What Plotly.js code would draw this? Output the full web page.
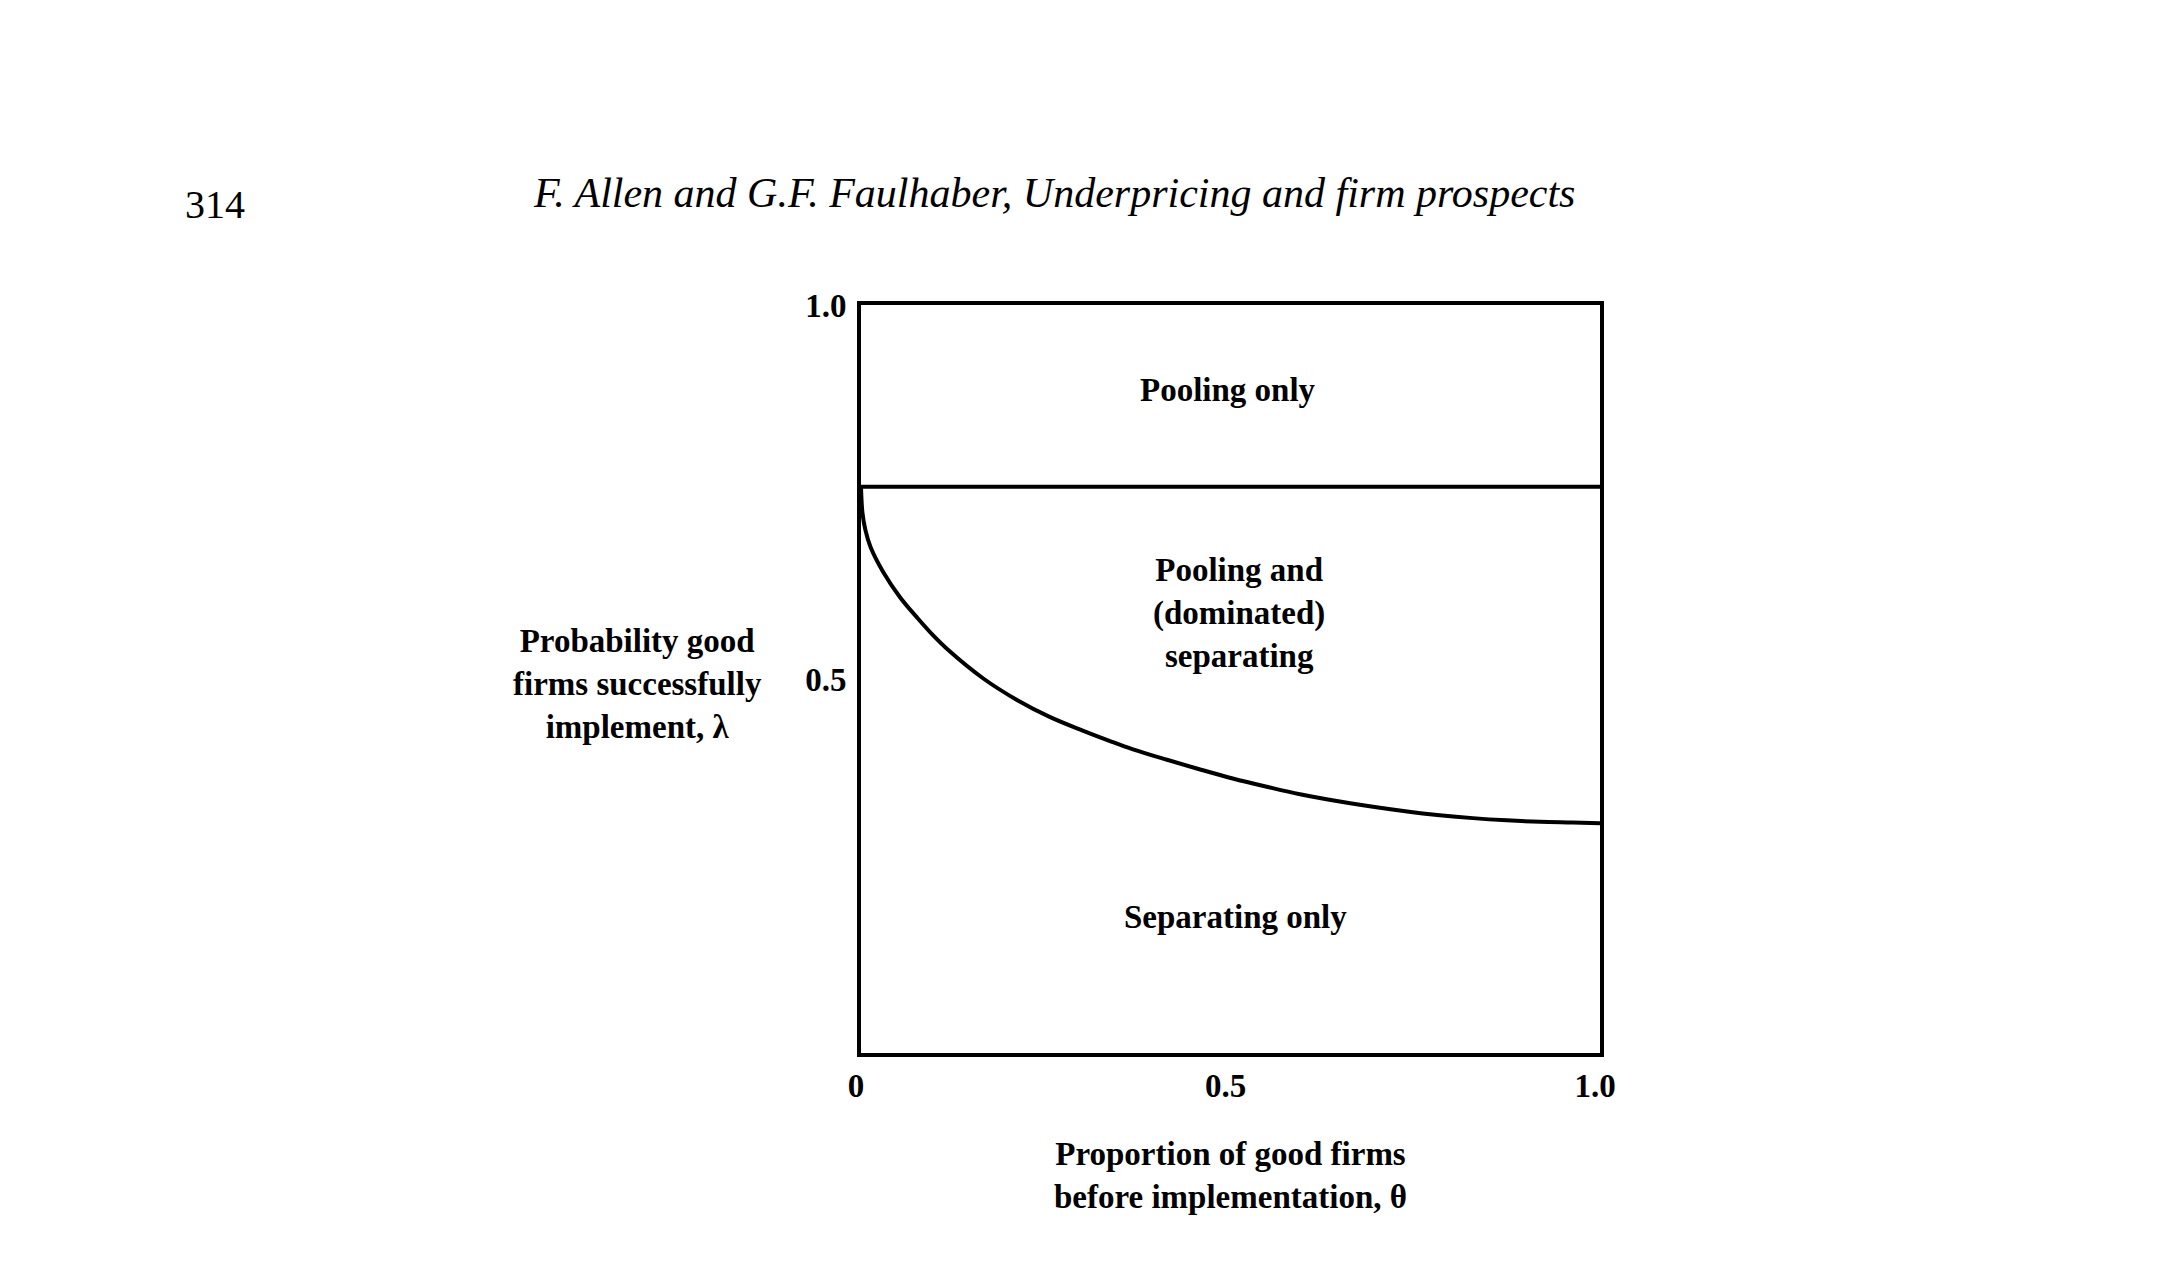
<!DOCTYPE html>
<html>
<head>
<meta charset="utf-8">
<script src="https://cdn.plot.ly/plotly-3.0.1.min.js"></script>
<style>html,body{margin:0;padding:0;background:#fff;}#chart{width:2159px;height:1285px;}</style>
</head>
<body>
<div id="chart"></div>
<script>
// Boundary between "Separating only" and "Pooling and (dominated) separating"
const theta = [0, 0.002, 0.006, 0.013, 0.030, 0.053, 0.076, 0.097, 0.120, 0.165, 0.211, 0.256, 0.300, 0.337, 0.368, 0.414, 0.459, 0.503, 0.549, 0.594, 0.662, 0.739, 0.783, 0.828, 0.874, 0.919, 0.963, 1.0];
const lambdaCurve = [0.757, 0.722, 0.699, 0.676, 0.643, 0.609, 0.582, 0.559, 0.537, 0.501, 0.472, 0.449, 0.431, 0.417, 0.406, 0.392, 0.379, 0.367, 0.356, 0.346, 0.334, 0.323, 0.318, 0.314, 0.311, 0.309, 0.308, 0.307];
// Boundary between "Pooling only" and the middle region
const poolingTheta = [0, 1];
const poolingLambda = [0.757, 0.757];

const xTickVals = [0, 0.5, 1.0];
const xTickText = ['0', '0.5', '1.0'];
const yTickVals = [0.5, 1.0];
const yTickText = ['0.5', '1.0'];

const regionLabels = ['Pooling only', 'Pooling and<br>(dominated)<br>separating', 'Separating only'];
const regionX = [0.497, 0.511, 0.507];
const regionY = [0.886, 0.588, 0.182];

const pageNumber = '314';
const runningHead = 'F. Allen and G.F. Faulhaber, Underpricing and firm prospects';
const xTitle = 'Proportion of good firms<br>before implementation, θ';
const yTitle = 'Probability good<br>firms successfully<br>implement, λ';

const serif = 'Liberation Serif, Times New Roman, serif';
const txtFont = {family: serif, size: 33, color: '#000', weight: 'bold'};

const traces = [
  {x: theta, y: lambdaCurve, mode: 'lines', line: {color: '#000', width: 4, shape: 'spline', smoothing: 1}, hoverinfo: 'skip', showlegend: false},
  {x: poolingTheta, y: poolingLambda, mode: 'lines', line: {color: '#000', width: 4}, hoverinfo: 'skip', showlegend: false}
];

const annotations = regionLabels.map((t, i) => ({
  text: t, x: regionX[i], y: regionY[i], xref: 'x', yref: 'y',
  showarrow: false, font: txtFont, align: 'center', xanchor: 'center', yanchor: 'middle'
}));
annotations.push({
  text: yTitle, xref: 'paper', yref: 'paper', x: -0.303, y: 0.493,
  showarrow: false, font: txtFont, align: 'center', xanchor: 'center', yanchor: 'middle'
});
annotations.push({
  text: pageNumber, xref: 'paper', yref: 'paper', x: (215 - 861) / 739, y: (1053 - 205) / 748,
  showarrow: false, font: {family: serif, size: 40, color: '#000', weight: 'normal'}, xanchor: 'center', yanchor: 'middle'
});
annotations.push({
  text: '<i>' + runningHead + '</i>', xref: 'paper', yref: 'paper', x: (1054 - 861) / 739, y: (1053 - 193) / 748,
  showarrow: false, font: {family: serif, size: 42, color: '#000', weight: 'normal'}, xanchor: 'center', yanchor: 'middle'
});

const layout = {
  width: 2159, height: 1285,
  paper_bgcolor: '#fff', plot_bgcolor: '#fff',
  margin: {l: 861, r: 559, t: 305, b: 232, pad: 0},
  showlegend: false,
  font: txtFont,
  xaxis: {
    range: [0, 1], showgrid: false, zeroline: false,
    showline: true, mirror: true, linecolor: '#000', linewidth: 4,
    tickvals: xTickVals, ticktext: xTickText,
    ticks: '', ticklabelshift: -5,
    tickfont: txtFont,
    title: {text: xTitle, font: txtFont, standoff: 40}
  },
  yaxis: {
    range: [0, 1], showgrid: false, zeroline: false,
    showline: true, mirror: true, linecolor: '#000', linewidth: 4,
    tickvals: yTickVals, ticktext: yTickText,
    ticks: 'outside', ticklen: 4, tickcolor: 'rgba(0,0,0,0)',
    tickfont: txtFont
  },
  annotations: annotations
};

Plotly.newPlot('chart', traces, layout, {displayModeBar: false, staticPlot: true});
</script>
</body>
</html>
